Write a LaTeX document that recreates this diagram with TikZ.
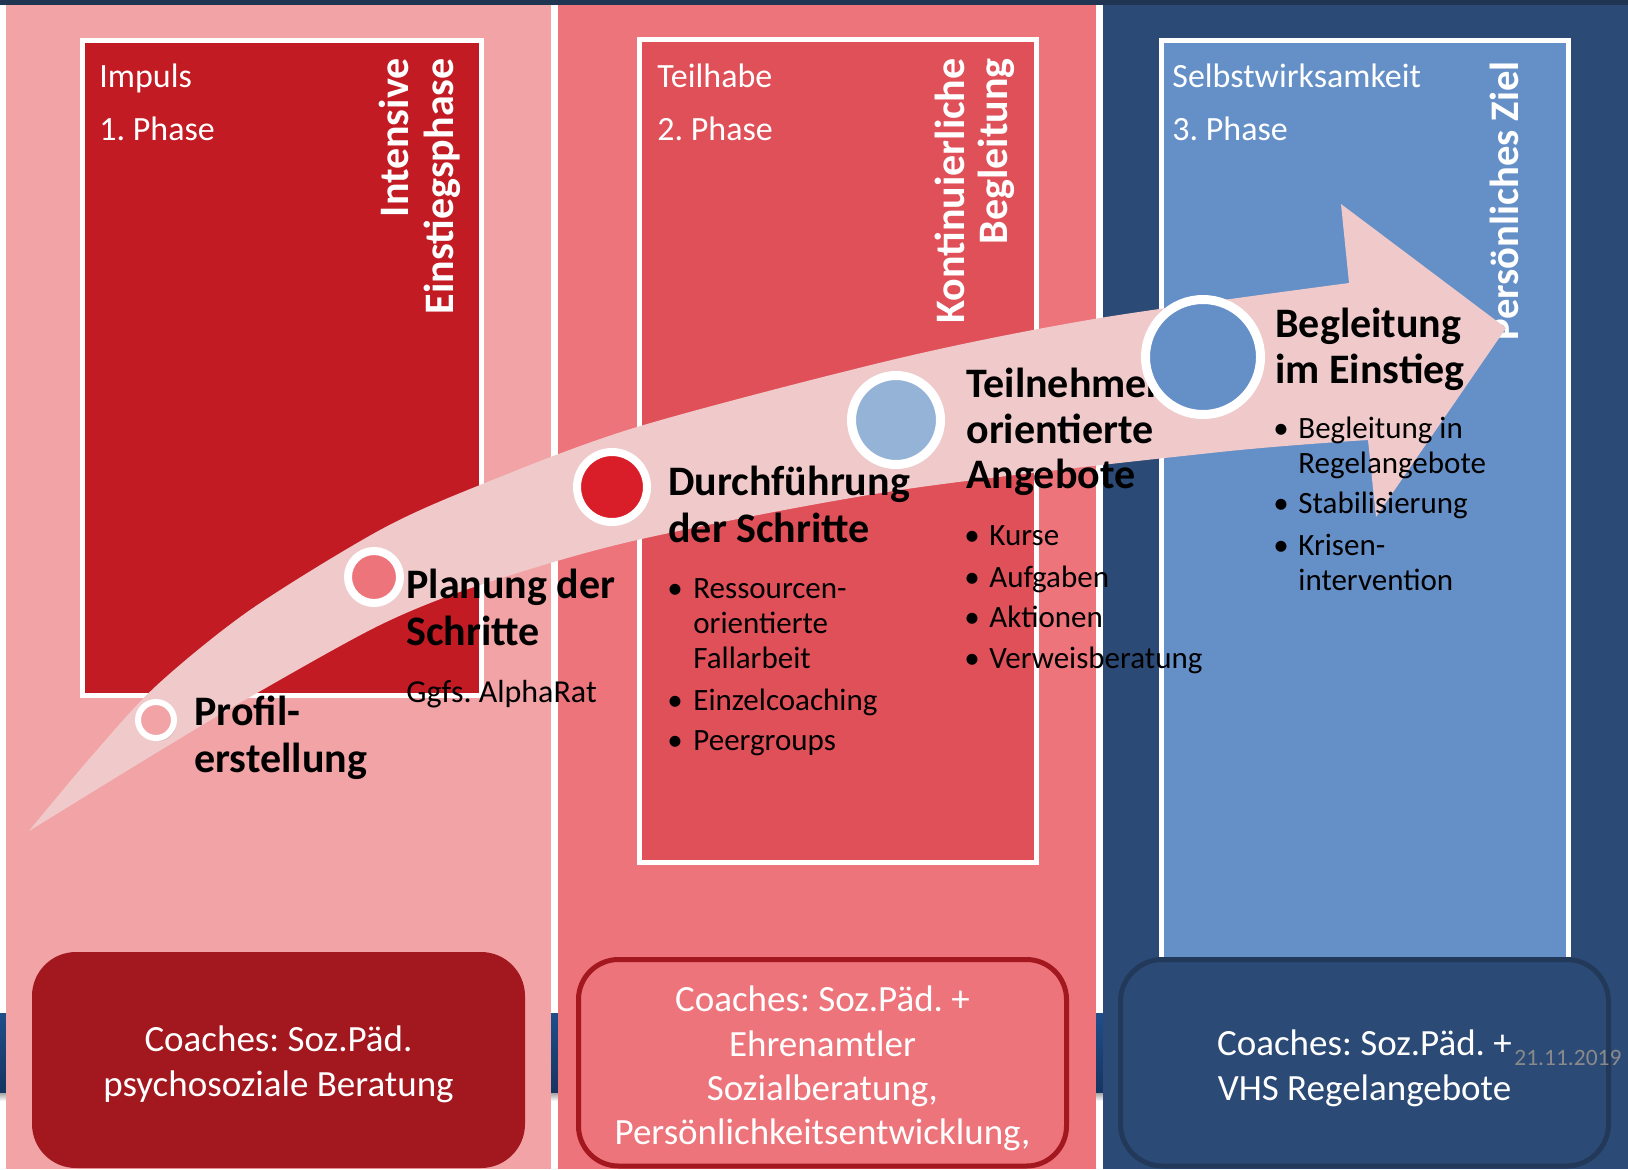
\documentclass[tikz,border=0pt]{standalone}
\usepackage{fontspec}
\setmainfont{Carlito}
\usetikzlibrary{shadows}
\frenchspacing
\definecolor{colA}{HTML}{F2A3A6}
\definecolor{colB}{HTML}{EC747A}
\definecolor{colC}{HTML}{2B4A76}
\definecolor{boxA}{HTML}{C21B23}
\definecolor{boxB}{HTML}{DF5058}
\definecolor{boxC}{HTML}{658FC7}
\definecolor{arrowpink}{HTML}{F0CACA}
\definecolor{darkred}{HTML}{A3171F}
\definecolor{navy}{HTML}{1F3552}
\definecolor{navyline}{HTML}{22395A}
\definecolor{redstep}{HTML}{D91E2A}
\definecolor{lightblue}{HTML}{95B3D7}
\definecolor{bandtop}{HTML}{1F4E8A}
\definecolor{bandbot}{HTML}{163560}
\definecolor{dategray}{HTML}{8A8A8A}
\begin{document}
\frenchspacing
\begin{tikzpicture}[x=0.5pt,y=-0.5pt,
  phaselbl/.style={anchor=base west, inner sep=0pt, text=white, font=\fontsize{17}{20}\selectfont},
  rotlbl/.style={rotate=90, anchor=base east, inner sep=0pt, text=white, font=\bfseries\fontsize{21}{25}\selectfont},
  steptitle/.style={anchor=base west, inner sep=0pt, text=black, font=\bfseries\fontsize{21}{25}\selectfont},
  bul/.style={anchor=base, inner sep=0pt, text=black, font=\fontsize{15.5}{18}\selectfont},
  bultxt/.style={anchor=base west, inner sep=0pt, text=black, font=\fontsize{15.5}{18}\selectfont},
  coachtxt/.style={anchor=base, inner sep=0pt, text=white, font=\fontsize{18.5}{22}\selectfont},
  stepdot/.style={circle, draw=white, inner sep=0pt,
     drop shadow={opacity=0.25, shadow xshift=1.2pt, shadow yshift=-1.5pt}},
  phasebox/.style={draw=white, line width=2.5pt}
]
\useasboundingbox (0,0) rectangle (1628,1169);
% background
\fill[white] (0,0) rectangle (1628,1169);
\shade[top color=bandtop, bottom color=bandbot] (0,1013) rectangle (1628,1093);
\shade[top color=black!35, bottom color=white] (0,1093) rectangle (1628,1101);
\fill[navy] (0,0) rectangle (1628,5);
% columns
\fill[colA] (6,5) rectangle (551,1169);
\fill[colB] (558,5) rectangle (1096,1169);
\fill[colC] (1103,5) rectangle (1628,1169);
% phase boxes
\draw[phasebox, fill=boxA] (82.5,40.5) rectangle (481,695.5);
\draw[phasebox, fill=boxB] (639.5,39.5) rectangle (1036.5,862.5);
\draw[phasebox, fill=boxC] (1161.5,40.5) rectangle (1568.5,1000);
% phase labels
\node[phaselbl] (impuls) at (99,87) {Impuls};
\node[phaselbl] (phase1) at (99,140) {1. Phase};
\node[phaselbl] (teilhabe) at (657,87) {Teilhabe};
\node[phaselbl] (phase2) at (657,140) {2. Phase};
\node[phaselbl] (selbst) at (1172,87) {Selbstwirksamkeit};
\node[phaselbl] (phase3) at (1172,140) {3. Phase};
% rotated labels
\node[rotlbl] (intensive) at (408,58) {Intensive};
\node[rotlbl] (einstieg) at (453,58) {Einstiegsphase};
\node[rotlbl] (kontinu) at (964,58) {Kontinuierliche};
\node[rotlbl] (beglrot) at (1007,58) {Begleitung};
\node[rotlbl, font=\bfseries\fontsize{20.3}{24}\selectfont] (ziel) at (1518,61) {Persönliches Ziel};
% big arrow
\fill[arrowpink] plot[smooth] coordinates {(29,831) (90,758) (156,686) (250,610) (380,530) (480,485) (637,427) (900,358) (1100,318) (1349,283)}
  -- (1341,204) -- (1506,328) -- (1376,517)
  -- plot[smooth] coordinates {(1368,440) (1220,452) (900,490) (637,540) (480,585) (380,625) (250,697) (156,753) (29,831)} -- cycle;
% step circles
\node[stepdot, minimum size=18pt, line width=3pt, fill=colA] (c1) at (156,720) {};
\node[stepdot, minimum size=26pt, line width=4pt, fill=colB] (c2) at (374,577) {};
\node[stepdot, minimum size=35pt, line width=4pt, fill=redstep] (c3) at (612,487) {};
\node[stepdot, minimum size=44.5pt, line width=4.5pt, fill=lightblue] (c4) at (896,420) {};
% step titles
\node[steptitle] (s1a) at (194,725) {Profil-};
\node[steptitle] (s1b) at (194,772) {erstellung};
\node[steptitle] (s2a) at (406,598) {Planung der};
\node[steptitle] (s2b) at (406,645) {Schritte};
\node[anchor=base west, inner sep=0pt, font=\fontsize{16}{19}\selectfont] (ggfs) at (406,702) {Ggfs. AlphaRat};
\node[steptitle] (s3a) at (668,495) {Durchführung};
\node[steptitle] (s3b) at (668,542) {der Schritte};
\node[steptitle] (s4a) at (966,397) {Teilnehmer-};
\node[steptitle] (s4b) at (966,443) {orientierte};
\node[steptitle] (s4c) at (966,488) {Angebote};
% last circle above text
\node[stepdot, minimum size=57.5pt, line width=4.5pt, fill=boxC] (c5) at (1203,357) {};
\node[steptitle] (s5a) at (1275,337) {Begleitung};
\node[steptitle] (s5b) at (1275,383) {im Einstieg};
% bullets step 3
\node[bul] (d1) at (675,598) {•};
\node[bultxt] (d1a) at (693,598) {Ressourcen-};
\node[bultxt] (d1b) at (693,633) {orientierte};
\node[bultxt] (d1c) at (693,668) {Fallarbeit};
\node[bul] (d2) at (675,710) {•};
\node[bultxt] (d2a) at (693,710) {Einzelcoaching};
\node[bul] (d3) at (675,750) {•};
\node[bultxt] (d3a) at (693,750) {Peergroups};
% bullets step 4
\node[bul] (e1) at (972,545) {•};
\node[bultxt] (e1a) at (989,545) {Kurse};
\node[bul] (e2) at (972,587) {•};
\node[bultxt] (e2a) at (989,587) {Aufgaben};
\node[bul] (e3) at (972,627) {•};
\node[bultxt] (e3a) at (989,627) {Aktionen};
\node[bul] (e4) at (972,668) {•};
\node[bultxt] (e4a) at (989,668) {Verweisberatung};
% bullets step 5
\node[bul] (f1) at (1281,438) {•};
\node[bultxt] (f1a) at (1298,438) {Begleitung in};
\node[bultxt] (f1b) at (1298,473) {Regelangebote};
\node[bul] (f2) at (1281,513) {•};
\node[bultxt] (f2a) at (1298,513) {Stabilisierung};
\node[bul] (f3) at (1281,555) {•};
\node[bultxt] (f3a) at (1298,555) {Krisen-};
\node[bultxt] (f3b) at (1298,590) {intervention};
% coaches boxes
\fill[darkred, rounded corners=22pt] (32,952) rectangle (525,1168);
\node[coachtxt] (k1a) at (278.5,1051) {Coaches: Soz.Päd.};
\node[coachtxt] (k1b) at (278.5,1096) {psychosoziale Beratung};
\draw[darkred, line width=2.5pt, fill=colB, rounded corners=20pt] (578.5,959.5) rectangle (1066.5,1166);
\node[coachtxt] (k2a) at (822.5,1011) {Coaches: Soz.Päd. +};
\node[coachtxt] (k2b) at (822.5,1056) {Ehrenamtler};
\node[coachtxt] (k2c) at (822.5,1100) {Sozialberatung,};
\node[coachtxt] (k2d) at (822.5,1144) {Persönlichkeitsentwicklung,};
\draw[navyline, line width=2.5pt, fill=colC, rounded corners=21pt] (1120.5,959.5) rectangle (1608.5,1166);
\node[coachtxt] (k3a) at (1364.5,1055) {Coaches: Soz.Päd. +};
\node[coachtxt] (k3b) at (1364.5,1100) {VHS Regelangebote};
% date
\node[anchor=base west, inner sep=0pt, text=dategray, font=\fontsize{11.75}{14}\selectfont] (date) at (1514,1065) {21.11.2019};
\end{tikzpicture}
\end{document}
